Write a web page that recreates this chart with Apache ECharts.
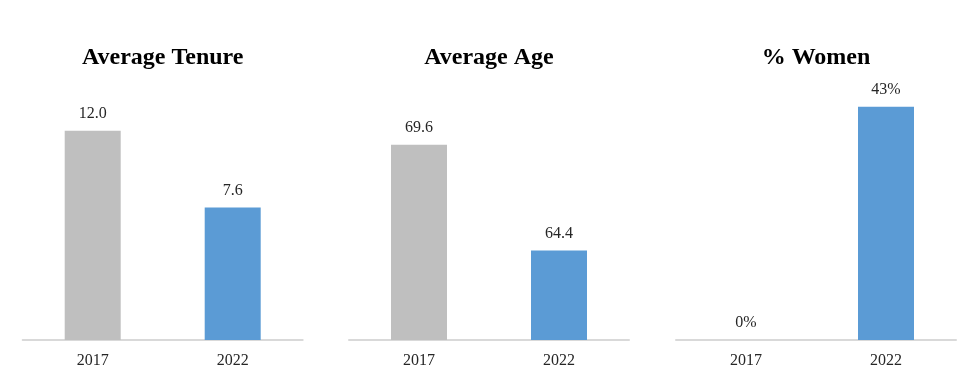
<!DOCTYPE html>
<html>
<head>
<meta charset="utf-8">
<script src="https://cdn.jsdelivr.net/npm/echarts@6/dist/echarts.min.js"></script>
<style>
html,body{margin:0;padding:0;background:#fff;}
#chart{width:971px;height:383px;}
</style>
</head>
<body>
<div id="chart"></div>
<script>
var categories = ['2017', '2022'];
var tenure = [12.0, 7.6];
var age = [69.6, 64.4];
var women = [0, 43];
var titles = ['Average Tenure', 'Average Age', '% Women'];

var barColors = ['#BFBFBF', '#5B9BD5'];
var font = 'Liberation Serif, Times New Roman, serif';
var gridLefts = [22.7, 349, 676];
var gridW = 280;
var yRanges = [[0, 14], [60, 72], [0, 45]];
var seriesData = [tenure, age, women];
var formatters = [
  function (p) { return p.value.toFixed(1); },
  function (p) { return p.value.toFixed(1); },
  function (p) { return p.value + '%'; }
];

var chart = echarts.init(document.getElementById('chart'));
var option = {
  backgroundColor: '#fff',
  animation: false,
  title: titles.map(function (t, i) {
    return {
      text: t,
      left: gridLefts[i] + gridW / 2,
      textAlign: 'center',
      top: 46,
      padding: 0,
      textStyle: { fontFamily: font, fontWeight: 'bold', fontSize: 24, color: '#000' }
    };
  }),
  grid: gridLefts.map(function (l) {
    return { left: l, width: gridW, top: 96, bottom: 43 };
  }),
  xAxis: gridLefts.map(function (l, i) {
    return {
      type: 'category', gridIndex: i, data: categories,
      axisTick: { show: false },
      axisLine: { lineStyle: { color: '#D9D9D9', width: 2 } },
      axisLabel: { fontFamily: font, fontSize: 16, color: '#262626', margin: 13 }
    };
  }),
  yAxis: yRanges.map(function (r, i) {
    return { type: 'value', gridIndex: i, min: r[0], max: r[1], show: false, splitLine: { show: false } };
  }),
  series: seriesData.map(function (d, i) {
    return {
      type: 'bar', xAxisIndex: i, yAxisIndex: i, barWidth: 56,
      data: d.map(function (v, j) { return { value: v, itemStyle: { color: barColors[j] } }; }),
      label: {
        show: true, position: 'top', distance: 9,
        fontFamily: font, fontSize: 16, color: '#262626',
        formatter: formatters[i]
      }
    };
  })
};
chart.setOption(option);
</script>
</body>
</html>
